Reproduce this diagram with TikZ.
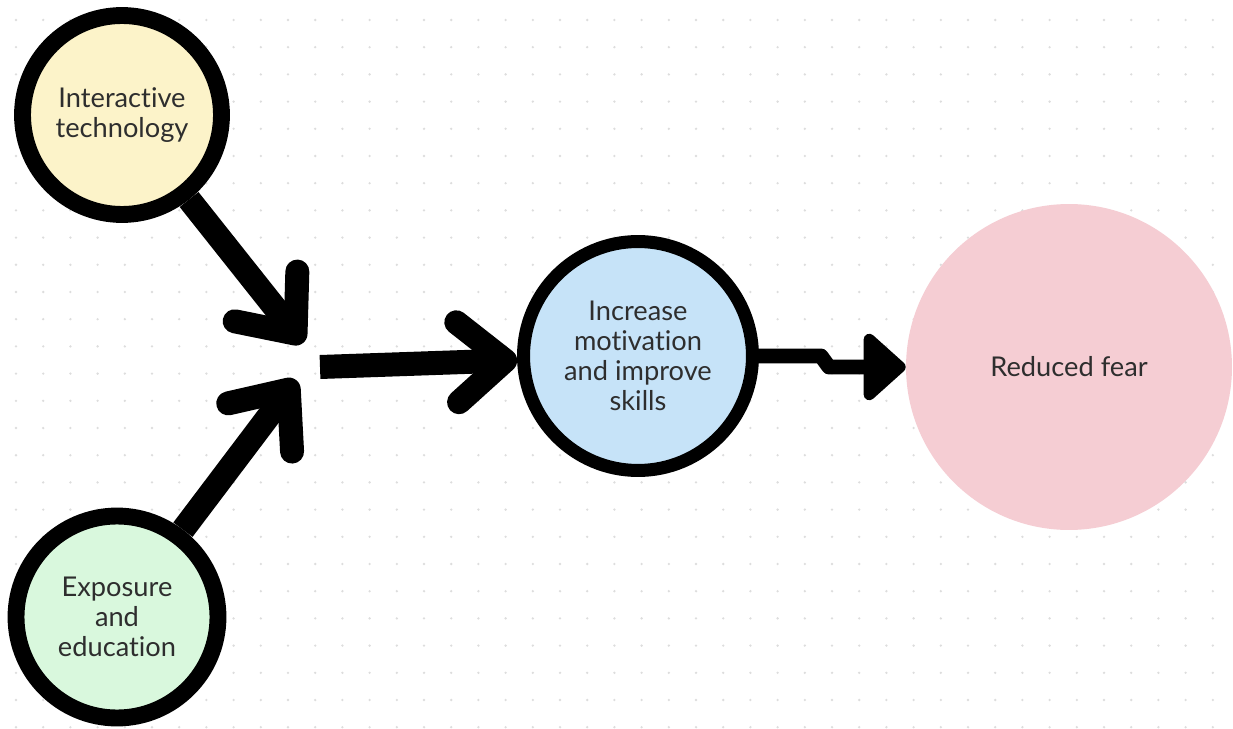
\documentclass[tikz,border=0pt]{standalone}
\usepackage{fontspec}
\setmainfont{Lato}[Ligatures=NoCommon]
\usetikzlibrary{arrows.meta}
\definecolor{techyellow}{HTML}{FCF3C9}
\definecolor{expgreen}{HTML}{D9F8DD}
\definecolor{motblue}{HTML}{C6E3F8}
\definecolor{fearpink}{HTML}{F5CDD3}
\definecolor{dotgray}{HTML}{DDDDDD}
\definecolor{txtgray}{HTML}{2E2E2E}

\begin{document}
\begin{tikzpicture}[x=0.02cm,y=-0.02cm,
    idea/.style={circle,draw=black,align=center,text=txtgray,
      font=\fontsize{15.5}{17}\selectfont,inner sep=0pt},
    fat/.style={line width=0.48cm,-{Straight Barb[round,length=0.95cm,width=1.6cm]}}]
    \useasboundingbox (0,0) rectangle (1233,729);
    \fill[white] (0,0) rectangle (1233,729);
    \foreach \i in {0,...,44}
        \foreach \j in {0,...,26}
            \fill[dotgray] (16+27.2*\i,20+27.2*\j) circle (1.3);

    \node[idea,fill=techyellow,line width=9.6pt,minimum size=3.98cm] (tech) at (122,115) {Interactive\\technology};
    \node[idea,fill=expgreen,line width=9.6pt,minimum size=4.04cm] (expo) at (117,617) {Exposure\\and\\education};
    \node[idea,fill=motblue,line width=7.4pt,minimum size=4.58cm] (motiv) at (638,356) {Increase\\motivation\\and improve\\skills};
    \node[idea,fill=fearpink,draw=none,minimum size=6.52cm] (fear) at (1069,367) {Reduced fear};

    \coordinate (tipA) at (303,343);
    \coordinate (tipB) at (296,380);
    \coordinate (hub) at (320,367);

    \draw[fat] (tech) -- (tipA);
    \draw[fat] (expo) -- (tipB);
    \draw[fat] (hub) -- (motiv);
    \draw[line width=0.3cm,line join=round,-{Triangle[round,length=0.9cm,width=1.55cm]}]
        (motiv.east) -- ++(62,0) -- ++(8,11) -- (fear.west);
\end{tikzpicture}
\end{document}
